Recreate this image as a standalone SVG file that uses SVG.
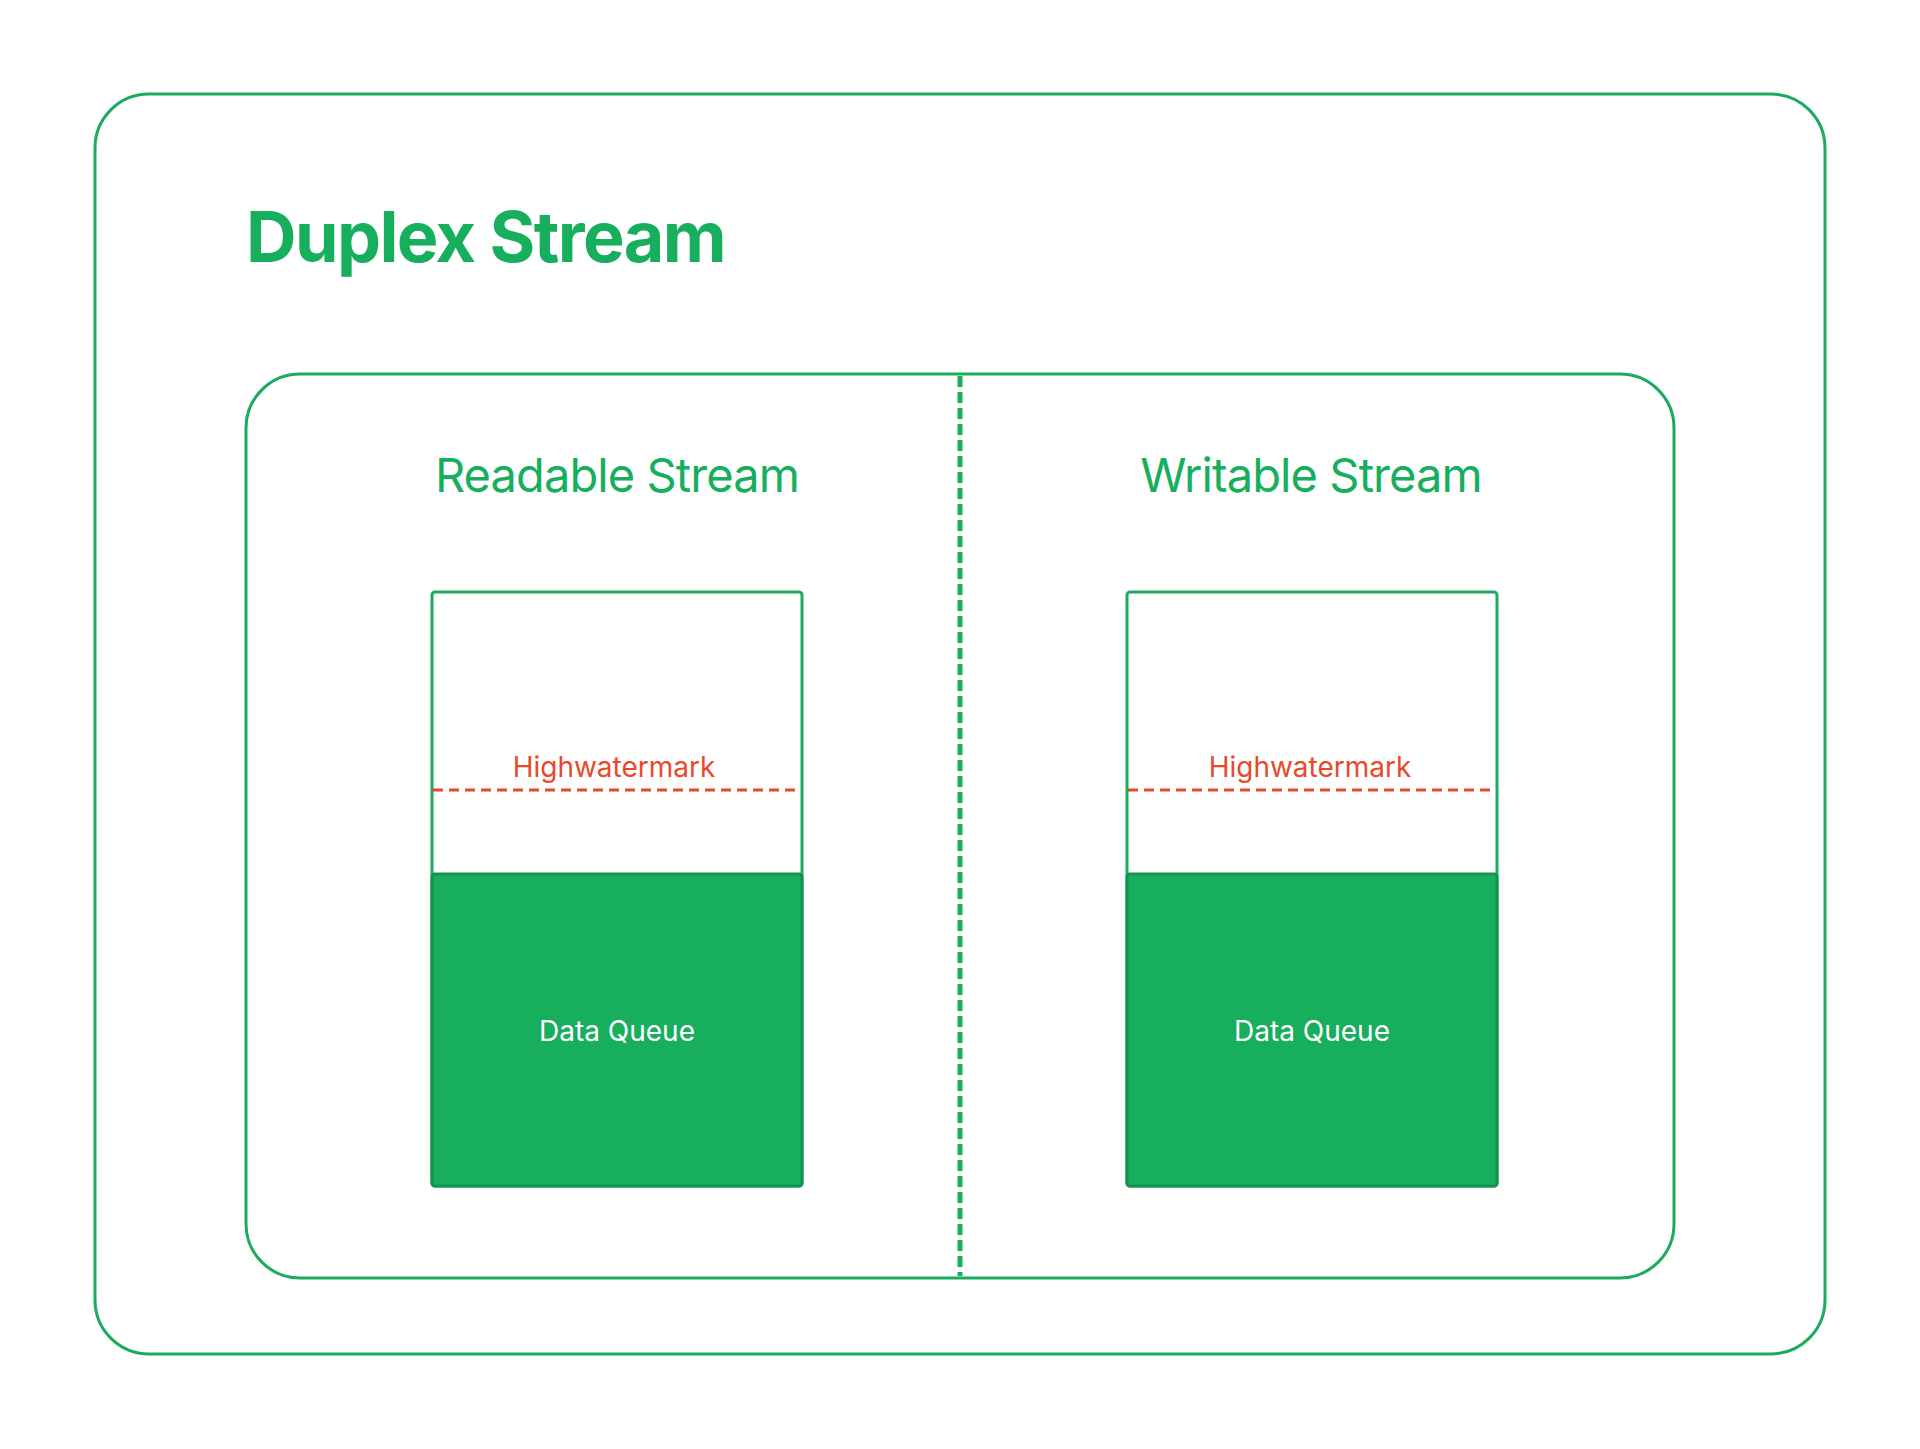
<svg xmlns="http://www.w3.org/2000/svg" width="1920" height="1449" viewBox="0 0 1920 1449">
<style>
.frame{fill:none;stroke:#1BAB5E;stroke-width:3}
.title{font-family:Inter,"Noto Sans",sans-serif;fill:#17AE5D}
.box{fill:#fff;stroke:#1BAB5E;stroke-width:3}
.queue{fill:#17AE5D;stroke:#12924F;stroke-width:3}
.hwm{stroke:#E8492B;stroke-width:3;stroke-dasharray:10 6;fill:none}
.hwmt{font-family:Inter,"Noto Sans",sans-serif;font-size:28px;fill:#E8492B;text-anchor:middle}
.dq{font-family:Inter,"Noto Sans",sans-serif;font-size:28px;fill:#fff;text-anchor:middle}
</style>
<rect width="1920" height="1449" fill="#fff"/>
<g id="duplex">
<rect class="frame" x="95" y="94" width="1730" height="1260" rx="54"/>
<text class="title" x="246" y="262" font-size="70" font-weight="700" letter-spacing="-1.6">Duplex Stream</text>
</g>
<g id="container">
<rect class="frame" x="246" y="374" width="1428" height="904" rx="54"/>
</g>
<g id="connectors">
<line x1="960" y1="376" x2="960" y2="1276" stroke="#17AE5D" stroke-width="5" stroke-dasharray="11 5"/>
</g>
<g id="readable">
<text class="title" x="617" y="492" font-size="47" text-anchor="middle" letter-spacing="-0.9">Readable Stream</text>
<rect class="box" x="432" y="592" width="370" height="594" rx="3"/>
<rect class="queue" x="432" y="874" width="370" height="312" rx="3"/>
<line class="hwm" x1="433" y1="790" x2="801" y2="790"/>
<text class="hwmt" x="614" y="777">Highwatermark</text>
<text class="dq" x="617" y="1041">Data Queue</text>
</g>
<g id="writable">
<text class="title" x="1311" y="492" font-size="47" text-anchor="middle" letter-spacing="-0.9">Writable Stream</text>
<rect class="box" x="1127" y="592" width="370" height="594" rx="3"/>
<rect class="queue" x="1127" y="874" width="370" height="312" rx="3"/>
<line class="hwm" x1="1128" y1="790" x2="1496" y2="790"/>
<text class="hwmt" x="1310" y="777">Highwatermark</text>
<text class="dq" x="1312" y="1041">Data Queue</text>
</g>
</svg>
